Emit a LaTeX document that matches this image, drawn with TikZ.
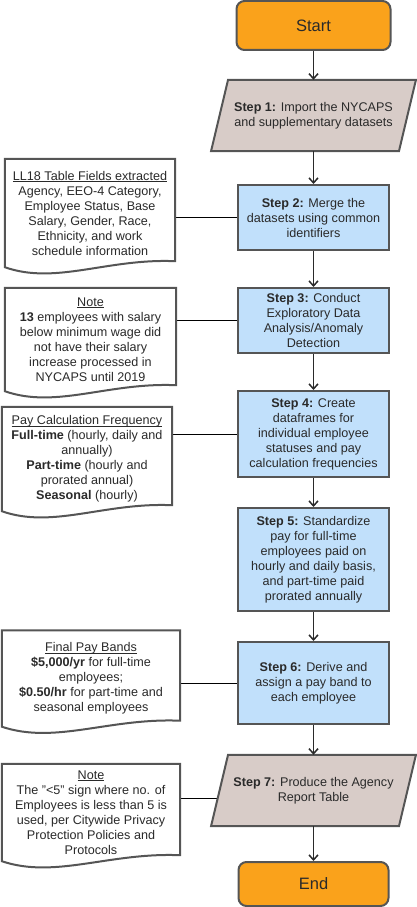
\documentclass[tikz,border=0pt]{standalone}
\usepackage{fontspec}
\setmainfont{Liberation Sans}
\usetikzlibrary{arrows.meta,backgrounds,calc}
\definecolor{orangeF}{HTML}{FAA21B}
\definecolor{stepblue}{HTML}{C1E0FB}
\definecolor{stepgray}{HTML}{D8CCC8}
\definecolor{edge}{HTML}{555555}
\definecolor{ink}{HTML}{2A2A2A}
\newcommand\ulx[1]{\setbox0\hbox{#1}\rlap{\rule[-1.8pt]{\wd0}{0.9pt}}\box0}
\newcommand\docout[2]{%
  \path[notebox] (#1.north west) -- (#1.north east) -- ($(#1.south east)+(0,-6)$)
    .. controls ($(#1.south east)+(-0.4*#2,-9)$) and ($(#1.south west)+(0.3*#2,18)$) .. (#1.south west) -- cycle;}
\begin{document}
\begin{tikzpicture}[x=1pt,y=-1pt,
  every node/.style={text=ink, font=\fontsize{12.6}{15}\selectfont, align=center, inner sep=0pt},
  stepbox/.style={draw=edge, line width=2pt, fill=stepblue, minimum width=151pt},
  term/.style={draw=edge, line width=2pt, fill=orangeF, rounded corners=8pt, font=\fontsize{16.5}{18}\selectfont},
  ghost/.style={minimum width=187.5pt, minimum height=71pt},
  paraline/.style={draw=edge, line width=2pt, fill=stepgray, line join=miter},
  notebox/.style={draw=edge, line width=2pt, fill=white},
  flow/.style={draw=ink, line width=1.5pt, -{Straight Barb[length=5pt,width=9pt]}},
  link/.style={draw=black, line width=1pt},
]
\useasboundingbox (0,0) rectangle (417,907);
% flow
\node[term, minimum width=154pt, minimum height=49pt] (start) at (313.5,25.5) {Start};
\node[ghost] (s1) at (313.5,115.5) {\textbf{Step 1:} Import the NYCAPS\\and supplementary datasets};
\node[stepbox, minimum height=65pt] (s2) at (313.5,217.5) {\textbf{Step 2:} Merge the\\datasets using common\\identifiers};
\node[stepbox, minimum height=65pt] (s3) at (313.5,320.5) {\textbf{Step 3:} Conduct\\Exploratory Data\\Analysis/Anomaly\\Detection};
\node[stepbox, minimum height=86pt] (s4) at (313.5,434) {\textbf{Step 4:} Create\\dataframes for\\individual employee\\statuses and pay\\calculation frequencies};
\node[stepbox, minimum height=103pt] (s5) at (313.5,559.5) {\textbf{Step 5:} Standardize\\pay for full-time\\employees paid on\\hourly and daily basis,\\and part-time paid\\prorated annually};
\node[stepbox, minimum height=82pt] (s6) at (313.5,683) {\textbf{Step 6:} Derive and\\assign a pay band to\\each employee};
\node[ghost] (s7) at (313.5,790.5) {\textbf{Step 7:} Produce the Agency\\Report Table};
\node[term, minimum width=150pt, minimum height=44pt] (end) at (313.5,884) {End};
% notes
\node[minimum width=170pt, minimum height=108pt] (n1) at (90,213) {\ulx{LL18 Table Fields extracted}\\Agency, EEO-4 Category,\\Employee Status, Base\\Salary, Gender, Race,\\Ethnicity, and work\\schedule information};
\node[minimum width=171pt, minimum height=103pt] (n2) at (90.5,339.5) {\ulx{Note}\\\textbf{13} employees with salary\\below minimum wage did\\not have their salary\\increase processed in\\NYCAPS until 2019};
\node[minimum width=170pt, minimum height=104pt] (n3) at (87,459) {\ulx{Pay Calculation Frequency}\\\textbf{Full-time} (hourly, daily and\\annually)\\\textbf{Part-time} (hourly and\\prorated annual)\\\textbf{Seasonal} (hourly)};
\node[minimum width=178pt, minimum height=96pt] (n4) at (91,678.5) {\ulx{Final Pay Bands}\\\textbf{\$5,000/yr} for full-time\\employees;\\\textbf{\$0.50/hr} for part-time and\\seasonal employees};
\node[minimum width=178pt, minimum height=97pt] (n5) at (91,812.5) {\ulx{Note}\\The "<5" sign where no. of\\Employees is less than 5 is\\used, per Citywide Privacy\\Protection Policies and\\Protocols};
\begin{pgfonlayer}{background}
  \draw[link] (s2.west) -- (s2.west -| n1.east);
  \draw[link] (s3.west) -- (s3.west -| n2.east);
  \draw[link] (s4.west) -- (s4.west -| n3.east);
  \draw[link] (s6.west) -- (s6.west -| n4.east);
  \draw[link] ([yshift=-7.5pt]s7.center) -- ([yshift=-7.5pt]s7.center -| n5.east);
  \path[paraline] ([xshift=8.5pt]s1.north west) -- ([xshift=8.5pt]s1.north east) -- ([xshift=-8.5pt]s1.south east) -- ([xshift=-8.5pt]s1.south west) -- cycle;
  \path[paraline] ([xshift=8.5pt]s7.north west) -- ([xshift=8.5pt]s7.north east) -- ([xshift=-8.5pt]s7.south east) -- ([xshift=-8.5pt]s7.south west) -- cycle;
  \docout{n1}{170}
  \docout{n2}{171}
  \docout{n3}{170}
  \docout{n4}{178}
  \docout{n5}{178}
\end{pgfonlayer}
\draw[flow] (start) -- (s1);
\draw[flow] (s1) -- (s2);
\draw[flow] (s2) -- (s3);
\draw[flow] (s3) -- (s4);
\draw[flow] (s4) -- (s5);
\draw[flow] (s5) -- (s6);
\draw[flow] (s6) -- (s7);
\draw[flow] (s7) -- (end);
\end{tikzpicture}
\end{document}
